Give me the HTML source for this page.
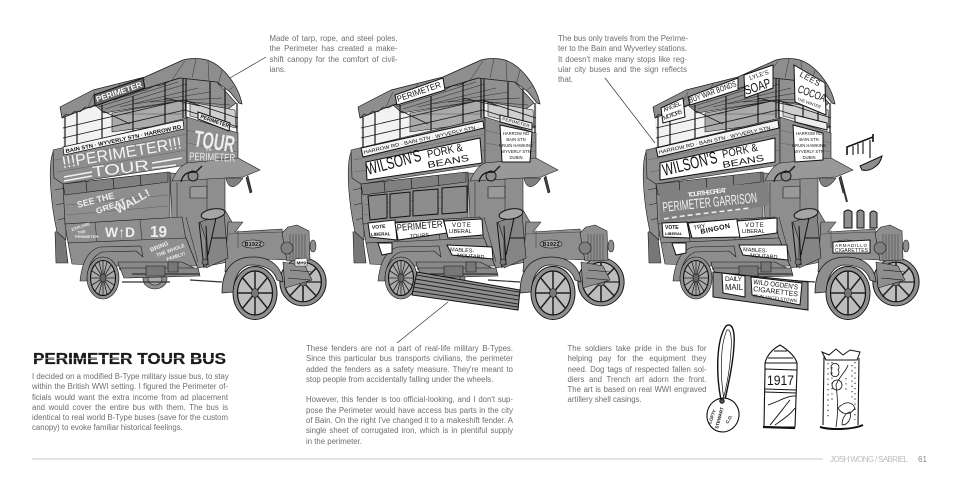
<!DOCTYPE html>
<html><head><meta charset="utf-8"><style>
html,body{margin:0;padding:0;background:#fff;width:960px;height:480px;overflow:hidden}
#c{position:relative;width:960px;height:480px;font-family:"Liberation Sans",sans-serif;color:#6e6e6e;font-size:7.8px}
.b{position:absolute}
.b div{height:10.3px;line-height:10.3px;white-space:nowrap;text-align:justify;text-align-last:justify}
.b div.l{text-align-last:left}
svg{position:absolute;left:0;top:0}
svg text{font-family:"Liberation Sans","DejaVu Sans",sans-serif}
</style></head><body><div id="c">
<svg width="960" height="480" viewBox="0 0 960 480">
<defs>
<g id="wheel">
<ellipse rx="22" ry="26.5" fill="#8e8e8e" stroke="#111" stroke-width=".9"/>
<ellipse rx="17.5" ry="22" fill="#bdbdbd" stroke="#111" stroke-width="1.2"/>
<path d="M0-22V22M-17.5 0H17.5M-13-16 13 16M13-16-13 16" stroke="#222" stroke-width="1.5" fill="none"/>
<ellipse rx="3.5" ry="4.5" fill="#777" stroke="#111"/>
</g>
<g id="bus" stroke="#1a1a1a" stroke-width=".6" fill="#8e8e8e" stroke-linejoin="round">
<!-- far wheel and rear differential -->
<use href="#wheel" transform="translate(303,282) scale(1.05,.9)"/>
<ellipse cx="155" cy="279" rx="12" ry="10" fill="#8e8e8e"/>
<ellipse cx="155" cy="279" rx="7" ry="6" fill="#aaa"/>
<!-- rear post -->
<path d="M55 232 64 230 68 263 56 263Z" fill="#777"/>
<path d="M53 152C48 165 50 200 57 232L66 240 66 190 64 150Z"/>
<path d="M55 160 63 157M54 175 63 172M55 190 64 188M56 205 65 203M58 220 65 218" stroke="#222" fill="none"/>
<!-- upper deck interior -->
<path d="M62 117 180 78 239 103 239 135 187 118 63 147Z" fill="#f2f2f2" stroke="none"/>
<path d="M95 105 147 88 180 78 217 82 236 103 224 112 185 100 104 113Z" fill="#909090"/>
<path d="M98 107 178 82M105 109 186 84M120 107 198 88M135 104 210 92M150 102 222 98M165 100 230 105" stroke="#333" stroke-width=".6" fill="none"/>
<path d="M112 113 185 100 186 122 112 132Z" fill="#aaa"/>
<path d="M190 102 235 110 236 128 190 116Z" fill="#cfcfcf"/>
<path d="M124 114H182" stroke="#555"/>
<path d="M65 116V147M77 112V144M102 105V139M133 96V132M165 80V124M183 78V118M186 78V118M210 82V124M225 88V128M237 103V135" stroke="#1a1a1a" stroke-width="1.2" fill="none"/>
<path d="M63 128 183 100 238 118M63 138 185 110 238 127M103 111 130 124M165 98 200 106" stroke="#1a1a1a" stroke-width=".8" fill="none"/>
<!-- canopy -->
<path d="M60 107 93 90 145 77 183 60C190 58 200 58 207 60 222 65 238 84 242 104L239 103 230 92 217 82 180 78 147 88 95 105 62 118Z" fill="#8e8e8e" stroke-width=".7"/>
<path d="M62 118 66 114 70 115 75 111 80 112 85 107 90 108 96 105 102 104 108 100 114 100 122 97 130 95 138 92 146 90 154 86 162 85 170 81 180 78" fill="none" stroke="#111"/>
<path d="M185 61 172 80M196 59 192 78M208 61 209 81M222 70 218 85M234 86 228 91M120 84 112 98M95 92 88 107M145 79 135 92" stroke="#333" stroke-width=".5" fill="none"/>
<!-- upper panels -->
<path d="M53 150 187 118 187 165 63 184 54 178Z"/>
<path d="M187 117 238 133 238 160 187 165Z"/>
<path d="M55 160 187 134M57 172 187 150M187 130 238 143M187 143 238 152" stroke="#555" stroke-width=".4" fill="none"/>
<!-- lower body -->
<path d="M63 184 170 172 170 218 65 224Z"/>
<path d="M63 184 168 172 168 182 65 195Z" fill="#808080"/>
<path d="M86 181 87 192M113 178 114 189M140 175 141 186" stroke="#111" fill="none"/>
<path d="M66 205 168 195M66 215 168 206" stroke="#555" stroke-width=".4" fill="none"/>
<path d="M170 173 225 175 225 210 232 222 228 262 198 268 186 238 172 220Z"/>
<path d="M190 187 207 186 207 198 190 198Z" fill="#999"/>
<path d="M207 175V214M177 182V218M186 217 198 262" stroke="#333" fill="none"/>
<!-- awning -->
<path d="M187 163 238 158 260 170 243 177 172 181C176 172 180 166 187 163Z" fill="#999"/>
<path d="M226 178C228 188 234 191 243 178Z" fill="#808080"/>
<path d="M248 176 252 192 250 193 246 178Z" fill="#444"/>
<circle cx="193" cy="176" r="5" fill="#8e8e8e" stroke-width="1"/>
<path d="M181 182C183 172 190 172 196 172L202 166" fill="none" stroke-width="1.4"/>
<!-- WD panel and skirt -->
<path d="M65 224 182 217 186 240 68 243Z"/>
<path d="M68 243 186 238 197 266 117 266 72 264Z"/>
<path d="M95 222 97 242M140 220 142 240" stroke="#333" fill="none"/>
<!-- rear guard -->
<path d="M80 281C82 262 88 250 100 247L141 246 143 257 136 251 102 252C92 256 87 268 87 281Z" fill="#8e8e8e"/>
<path d="M118 262 182 262 194 268 120 270Z" fill="#888"/>
<!-- chassis -->
<path d="M120 268 198 268 200 276 124 278Z" fill="#888"/>
<path d="M132 274H200M190 280 222 282M122 282 170 282" stroke="#333" stroke-width="1.2" fill="none"/>
<path d="M146 266 165 266 165 276 146 276Z" fill="#777"/>
<path d="M168 262H178V272H168Z" fill="#777"/>
<!-- hood -->
<path d="M228 222 243 222 235 232 282 229 287 260 243 258 225 272Z"/>
<path d="M228 234 282 232" stroke="#444" fill="none"/>
<path d="M238 230 V248" stroke="#444" fill="none"/>
<ellipse cx="253" cy="244" rx="11" ry="4" fill="#a8a8a8"/>
<!-- controls -->
<path d="M200 222 224 214 228 258 206 268 206 240Z" fill="#858585"/>
<ellipse cx="213" cy="214" rx="12" ry="5" fill="#a5a5a5" transform="rotate(-10 213 214)" stroke-width="1.1"/>
<path d="M206 226 208 265M216 218 208 255M199 222 204 268M212 238H226" stroke="#111" stroke-width="1" fill="none"/>
<circle cx="205" cy="262" r="3" fill="#777"/>
<!-- radiator -->
<path d="M282 233 288 227 297 225 309 231 310 260 287 261Z" fill="#8e8e8e"/>
<path d="M290 234V260M293 234V260M296 234V260M299 234V260M302 234V260M305 234V260" stroke="#444" stroke-width=".6"/>
<circle cx="287" cy="248" r="6" fill="#808080"/>
<ellipse cx="313" cy="246" rx="3" ry="6" fill="#8e8e8e"/>
<path d="M283 262 305 266 312 280 285 288Z" fill="#8e8e8e"/>
<path d="M290 270 312 272M288 278 310 280" stroke="#111" fill="none"/>
<!-- front wheel -->
<use href="#wheel" transform="translate(255,293)"/>
<path d="M222 293C222 270 232 257 253 257 272 257 282 268 283 282L277 280C274 270 266 265 251 265 240 266 234 277 233 292Z" fill="#8e8e8e" stroke-width=".8"/>
<!-- rear wheel -->
<g transform="translate(103,278)">
<ellipse rx="16" ry="21" fill="#8e8e8e" stroke="#111"/>
<ellipse rx="12.5" ry="17.5" fill="#a9a9a9" stroke="#111" stroke-width="1.1"/>
<path d="M0-17V17M-12 0H12M-8-13 8 13M8-13-8 13M-4-16 4 16M4-16-4 16M-11-7 11 7M11-7-11 7" stroke="#222" stroke-width=".8"/>
<ellipse rx="3" ry="4" fill="#666"/>
</g>
</g>
</defs>

<!-- BUS 1 -->
<use href="#bus"/>
<path d="M63 147 183 120 184 129 64 155Z" fill="#f6f6f6" stroke="#111" stroke-width=".7"/>
<text transform="translate(66,153) rotate(-12)" font-size="5.4" font-weight="bold" fill="#111" textLength="118" lengthAdjust="spacingAndGlyphs">BAIN STN · WYVERLY STN · HARROW RD</text>
<text transform="translate(63,168) rotate(-9.5)" font-size="16" fill="#f5f5f5" textLength="121" lengthAdjust="spacingAndGlyphs">!!!PERIMETER!!!</text>
<text transform="translate(93,177) rotate(-7)" font-size="15" fill="#f5f5f5" textLength="57" lengthAdjust="spacingAndGlyphs">TOUR</text>
<path d="M64 177 92 172M64 181 92 176M152 168 176 165M152 163 182 158" stroke="#f2f2f2" stroke-width="1.6"/>
<path d="M94 95 143 78 145 88 95 106Z" fill="#666" stroke="#111"/>
<text transform="translate(97,102) rotate(-18.5)" font-size="8" font-weight="bold" fill="#fff" textLength="48" lengthAdjust="spacingAndGlyphs">PERIMETER</text>
<path d="M198 112 230 123 229 131 198 119Z" fill="#eee" stroke="#111"/>
<text transform="translate(200,118) rotate(19)" font-size="5.5" font-weight="bold" fill="#111" textLength="30" lengthAdjust="spacingAndGlyphs">PERIMETER</text>
<text transform="translate(193,146) rotate(9)" font-size="23" font-weight="bold" fill="#eee" textLength="41" lengthAdjust="spacingAndGlyphs">TOUR</text>
<text x="205" y="151" font-size="3.5" fill="#eee">THE</text>
<text transform="translate(189,160) rotate(2)" font-size="11" fill="#eee" textLength="46" lengthAdjust="spacingAndGlyphs">PERIMETER</text>
<text transform="translate(78,208) rotate(-15)" font-size="9" font-weight="bold" fill="#eee" textLength="38" lengthAdjust="spacingAndGlyphs">SEE THE</text>
<text transform="translate(97,214) rotate(-20)" font-size="8" font-weight="bold" fill="#eee" textLength="31" lengthAdjust="spacingAndGlyphs">GREAT</text>
<text transform="translate(118,214) rotate(-30)" font-size="11" font-weight="bold" fill="#eee" textLength="38" lengthAdjust="spacingAndGlyphs">WALL!</text>
<text x="105" y="237" font-size="14" font-weight="bold" fill="#eee" textLength="30" lengthAdjust="spacingAndGlyphs">W↑D</text>
<text x="150" y="237" font-size="16" font-weight="bold" fill="#eee" textLength="17" lengthAdjust="spacingAndGlyphs">19</text>
<text transform="translate(72,231) rotate(-18)" font-size="4" fill="#eee" font-weight="bold">EXPLORE</text>
<text transform="translate(78,234) rotate(-8)" font-size="4" fill="#eee" font-weight="bold">THE</text>
<text transform="translate(75,238)" font-size="4" fill="#eee" font-weight="bold">PERIMETER</text>
<text transform="translate(151,252) rotate(-22)" font-size="6" font-weight="bold" fill="#eee">BRING</text>
<text transform="translate(157,257) rotate(-20)" font-size="5" font-weight="bold" fill="#eee">THE WHOLE</text>
<text transform="translate(167,261) rotate(-18)" font-size="5" font-weight="bold" fill="#eee">FAMILY!</text>
<text x="244.5" y="246" font-size="5.5" font-weight="bold" fill="#111" textLength="17">B1922</text>
<path d="M295 259 307 258 307 266 295 266Z" fill="#fff" stroke="#111" stroke-width=".5"/>
<text x="296.5" y="264.5" font-size="4.5" font-weight="bold" fill="#111">MH9</text>

<!-- BUS 2 -->
<use href="#bus" x="298"/>
<path d="M395 95 443 78 445 90 397 105Z" fill="#fff" stroke="#111"/>
<text transform="translate(398,102) rotate(-19)" font-size="8.5" fill="#111" textLength="46" lengthAdjust="spacingAndGlyphs">PERIMETER</text>
<path d="M361 148 483 121 484 128 363 157Z" fill="#f4f4f4" stroke="#111"/>
<text transform="translate(364,154) rotate(-12.5)" font-size="5" fill="#111" textLength="118" lengthAdjust="spacingAndGlyphs">HARROW RD · BAIN STN · WYVERLY STN ·</text>
<path d="M366 162 480 138 482 163 367 180Z" fill="#fff" stroke="#111" stroke-width="1"/>
<text transform="translate(368,175) rotate(-15)" font-size="17" fill="#111" textLength="56" lengthAdjust="spacingAndGlyphs">WILSON'S</text>
<text transform="translate(428,158) rotate(-12)" font-size="11" fill="#111" textLength="36" lengthAdjust="spacingAndGlyphs">PORK &amp;</text>
<text transform="translate(428,168) rotate(-10)" font-size="9" fill="#111" textLength="42" lengthAdjust="spacingAndGlyphs">BEANS</text>
<path d="M500 125 532 132 530 162 502 162Z" fill="#fff" stroke="#111"/>
<path d="M500 115 532 123 532 130 500 122Z" fill="#eee" stroke="#111"/>
<text transform="translate(502,120) rotate(15)" font-size="4.3" fill="#111" textLength="28">PERIMETER</text>
<g font-size="4.2" fill="#111" text-anchor="middle"><text x="516" y="135">HARROW RD</text><text x="516" y="141">BAIN STN</text><text x="516" y="147">BRUIN HAWKINS</text><text x="516" y="153">WYVERLY STN</text><text x="516" y="159">DUBIN</text></g>
<g fill="#8d8d8d" stroke="#111" stroke-width="1"><path d="M368 196 387 194 387 218 370 220Z"/><path d="M390 194 410 192 410 216 390 218Z"/><path d="M413 191 438 189 438 214 413 216Z"/><path d="M442 188 467 186 467 212 442 214Z"/></g>
<path d="M368 223 395 220 397 240 370 237Z" fill="#fff" stroke="#111"/>
<text transform="translate(372,229) rotate(-5)" font-size="5" font-weight="bold" fill="#111">VOTE</text>
<text transform="translate(371,236) rotate(-2)" font-size="4.5" font-weight="bold" fill="#111">LIBERAL</text>
<path d="M395 223 443 219 447 233 398 240Z" fill="#fff" stroke="#111"/>
<text transform="translate(397,231) rotate(-5)" font-size="9.5" fill="#111" textLength="46" lengthAdjust="spacingAndGlyphs">PERIMETER</text>
<text transform="translate(410,238) rotate(-4)" font-size="5.5" fill="#111">TOURS</text>
<path d="M444 221 482 219 483 235 448 238Z" fill="#fff" stroke="#111"/>
<text x="452" y="227" font-size="6" fill="#111" letter-spacing=".8">VOTE</text>
<text x="449" y="233" font-size="5.5" fill="#111">LIBERAL</text>
<path d="M378 243 392 243 392 253 382 255Z" fill="#fff" stroke="#111"/>
<path d="M447 245 492 247 493 259 452 255Z" fill="#fff" stroke="#111"/>
<text transform="translate(450,251) rotate(4)" font-size="5.5" fill="#111">MABLES-</text>
<text transform="translate(457,257) rotate(4)" font-size="5.5" fill="#111">MOUTARD</text>
<path d="M417 272 520 290 518 310 412 295Z" fill="#8e8e8e" stroke="#111"/>
<path d="M416 275 519 292M415 279 519 296M414 283 519 300M413 287 518 304M412 291 518 307" stroke="#222" stroke-width=".9"/>
<text x="542.5" y="246" font-size="5.5" font-weight="bold" fill="#111" textLength="17">B1922</text>

<!-- BUS 3 -->
<use href="#bus" x="593"/>
<path d="M661 108 683 98 685 117 663 123Z" fill="#fff" stroke="#111"/>
<text transform="translate(664,112) rotate(-22)" font-size="6" fill="#111" textLength="19">ANGEL</text>
<text transform="translate(664,120) rotate(-20)" font-size="6" fill="#111" textLength="20">MOTORS</text>
<path d="M688 97 738 78 738 90 690 105Z" fill="#fff" stroke="#111"/>
<text transform="translate(690,103) rotate(-20)" font-size="8" fill="#111" textLength="50" lengthAdjust="spacingAndGlyphs">BUY WAR BONDS</text>
<path d="M744 75 773 65 773 88 745 98Z" fill="#fff" stroke="#111"/>
<text transform="translate(750,80) rotate(-18)" font-size="6" fill="#111" textLength="20">LYLE'S</text>
<text transform="translate(746,95) rotate(-18)" font-size="13" fill="#111" textLength="27" lengthAdjust="spacingAndGlyphs">SOAP</text>
<path d="M794 65 825 83 826 115 795 102Z" fill="#fff" stroke="#111"/>
<text transform="translate(799,76) rotate(28)" font-size="8" fill="#111" textLength="22">LEES</text>
<text transform="translate(797,92) rotate(20)" font-size="11" fill="#111" textLength="29" lengthAdjust="spacingAndGlyphs">COCOA</text>
<text transform="translate(797,100) rotate(20)" font-size="4" fill="#111">THE WINTER</text>
<path d="M656 148 778 120 779 128 658 157Z" fill="#f4f4f4" stroke="#111"/>
<text transform="translate(659,154) rotate(-12.5)" font-size="5" fill="#111" textLength="118" lengthAdjust="spacingAndGlyphs">HARROW RD · BAIN STN · WYVERLY STN ·</text>
<path d="M660 163 775 138 775 162 660 180Z" fill="#fff" stroke="#111" stroke-width="1"/>
<text transform="translate(664,176) rotate(-14)" font-size="17" fill="#111" textLength="56" lengthAdjust="spacingAndGlyphs">WILSON'S</text>
<text transform="translate(723,158) rotate(-12)" font-size="11" fill="#111" textLength="36" lengthAdjust="spacingAndGlyphs">PORK &amp;</text>
<text transform="translate(723,168) rotate(-10)" font-size="9" fill="#111" textLength="42" lengthAdjust="spacingAndGlyphs">BEANS</text>
<path d="M793 125 823 133 823 160 795 162Z" fill="#fff" stroke="#111"/>
<path d="M795 115 827 123 827 130 795 122Z" fill="#eee" stroke="#111"/>
<g font-size="4.2" fill="#111" text-anchor="middle"><text x="809" y="135">HARROW RD</text><text x="809" y="141">BAIN STN</text><text x="809" y="147">BRUIN HAWKINS</text><text x="809" y="153">WYVERLY STN</text><text x="809" y="159">DUBIN</text></g>
<path d="M660 192 768 182 770 205 660 224Z" fill="#808080"/>
<text transform="translate(688,197) rotate(-7)" font-size="6.5" font-weight="bold" fill="#eee" textLength="39">TOUR THE GREAT</text>
<text transform="translate(663,212) rotate(-6)" font-size="14" fill="#f2f2f2" textLength="95" lengthAdjust="spacingAndGlyphs">PERIMETER GARRISON</text>
<path d="M664 219C680 216 700 214 750 208" stroke="#eee" stroke-width="1.6" stroke-dasharray="5 3" fill="none"/>
<path d="M662 223 687 222 690 238 663 237Z" fill="#fff" stroke="#111"/>
<text x="665" y="229" font-size="5" font-weight="bold" fill="#111">VOTE</text>
<text x="665" y="235" font-size="4" font-weight="bold" fill="#111">LIBERAL</text>
<path d="M688 223 737 219 740 237 692 238Z" fill="#fff" stroke="#111"/>
<text transform="translate(694,230) rotate(-12)" font-size="6" fill="#111">TRY</text>
<text transform="translate(701,234) rotate(-12)" font-size="7" font-weight="bold" fill="#111" textLength="30">BINGON</text>
<path d="M737 221 777 218 777 233 740 238Z" fill="#fff" stroke="#111"/>
<text x="745" y="227" font-size="6" fill="#111" letter-spacing=".8">VOTE</text>
<text x="742" y="233" font-size="5.5" fill="#111">LIBERAL</text>
<path d="M672 243 686 243 686 253 676 255Z" fill="#fff" stroke="#111"/>
<path d="M739 245 787 245 788 260 743 255Z" fill="#fff" stroke="#111"/>
<text transform="translate(743,251) rotate(4)" font-size="5.5" fill="#111">MABLES-</text>
<text transform="translate(750,257) rotate(4)" font-size="5.5" fill="#111">MOUTARD</text>
<path d="M713 272 808 282 808 310 713 297Z" fill="#8e8e8e" stroke="#111"/>
<path d="M722 273 745 276 745 297 723 293Z" fill="#fff" stroke="#111"/>
<text x="725" y="281" font-size="6.5" fill="#111" textLength="17">DAILY</text>
<text x="725" y="290" font-size="8" fill="#111" textLength="18" lengthAdjust="spacingAndGlyphs">MAIL</text>
<path d="M751 277 802 283 800 305 752 295Z" fill="#fff" stroke="#111"/>
<g fill="#111" font-size="7"><text transform="translate(753,284) rotate(7)" textLength="45" lengthAdjust="spacingAndGlyphs">WILD OGDEN'S</text><text transform="translate(753,291) rotate(7)" textLength="45" lengthAdjust="spacingAndGlyphs">CIGARETTES</text><text transform="translate(753,297) rotate(7)" font-size="4.5" textLength="44">#1 IN ANGELSTOWN</text></g>
<g fill="#8e8e8e" stroke="#111"><path d="M844 212Q848 208 852 212V228H844Z"/><path d="M857 212Q860 208 864 212V228H857Z"/><path d="M870 213Q873 209 877 213V228H870Z"/></g>
<path d="M833 242 870 240 870 253 833 253Z" fill="#fff" stroke="#111"/>
<text x="835" y="247" font-size="4.5" fill="#111" textLength="32">ARMADILLO</text>
<text x="835" y="252" font-size="5" fill="#111" textLength="33">CIGARETTES</text>
<path d="M847 155V147L873 137M873 134 873 142" stroke="#111" stroke-width="1.6" fill="none"/>
<path d="M853 146V155M858 144V154M863 142V154M870 140 870 158" stroke="#222" stroke-width="1.2" fill="none"/>
<path d="M860 166 882 156C880 166 870 172 862 170Z" fill="#8e8e8e" stroke="#111"/>
<path d="M842 183 847 202" stroke="#333" stroke-width="2"/>

<!-- leader lines -->
<path d="M266 57 230 78M448 302 397 343M605 78 655 143" stroke="#333" stroke-width=".7" fill="none"/>

<!-- heading -->
<text x="33" y="364" font-size="16" font-weight="bold" fill="#1a1a1a" stroke="#1a1a1a" stroke-width=".3" textLength="193" lengthAdjust="spacingAndGlyphs">PERIMETER TOUR BUS</text>
<path d="M33 358.5H226" stroke="#fff" stroke-width=".5"/>

<!-- tag and shells -->
<g fill="none" stroke="#111">
<path d="M721 400C716 375 716 340 726 326 732 322 735 330 734 345 733 365 728 385 725 400" stroke-width="1.4"/>
<path d="M724 400C720 375 720 345 727 330 731 328 732 340 731 350 730 370 727 385 723 400" stroke-width=".7"/>
<ellipse cx="723" cy="415" rx="16" ry="17" stroke-width="1.1" fill="#fff" transform="rotate(15 723 415)"/>
<circle cx="722" cy="401" r="2.2" fill="#555"/>
<path d="M765 370V363C767 355 773 349 780 345 788 350 795 356 797 363V370L795 427H764Z" stroke-width="1.1" fill="#fff"/>
<path d="M774 351 787 351M768 358 793 358M765 363 797 363M765 369 797 370M765 389 796 390M765 392 796 393" stroke-width=".9"/>
<path d="M768 405C778 402 788 395 796 396M770 425C776 418 782 410 790 400M775 425C782 420 790 415 795 408" stroke-width=".9"/>
<path d="M763 427 795 428" stroke-width="2.2"/>
<path d="M822 352 829 355 836 349 843 355 850 350 860 352 857 360H826L822 352Z" stroke-width="1" fill="#fff"/>
<path d="M824 357 823 425M859 358 858 425" stroke-width="1.1"/>
<path d="M836 427C838 415 838 400 836 385 840 375 846 372 848 365M838 408C846 400 852 402 855 408 850 416 842 415 838 408M842 385a5 5 0 1 0 -10 0a5 5 0 1 0 10 0M842 425C842 416 848 412 850 412 852 418 848 425 842 425M832 370a4 4 0 1 0 6 0a4 4 0 1 0 -6 0" stroke-width=".8"/>
<path d="M828 363V420M832 362V400M846 378V392M852 365V400M855 362V420" stroke-dasharray="1.2 4" stroke-width="1"/>
<path d="M820 427C830 430 852 430 863 425" stroke-width="2"/>
</g>
<text x="767" y="385" font-size="13.5" fill="#111" textLength="27" lengthAdjust="spacingAndGlyphs">1917</text>
<g font-size="4.5" fill="#111" font-weight="bold">
<text transform="translate(718,429) rotate(-75)">STEWART</text>
<text transform="translate(711,424) rotate(-70)">LOFTY</text>
<text transform="translate(728,424) rotate(-60)">C.O.</text>
</g>

<!-- footer -->
<rect x="32" y="458.5" width="791" height="1" fill="#c9c9c9"/>
<text x="830" y="462" font-size="8" fill="#bdbdbd" textLength="78">JOSH WONG / SABRIEL</text>
<text x="918" y="462" font-size="8" fill="#888">61</text>
</svg>

<div class="b" style="left:269.5px;top:34px;width:128px">
<div>Made of tarp, rope, and steel poles,</div>
<div>the Perimeter has created a make-</div>
<div>shift canopy for the comfort of civil-</div>
<div class="l">ians.</div>
</div>
<div class="b" style="left:558px;top:34px;width:129px">
<div>The bus only travels from the Perime-</div>
<div>ter to the Bain and Wyverley stations.</div>
<div>It doesn't make many stops like reg-</div>
<div>ular city buses and the sign reflects</div>
<div class="l">that.</div>
</div>
<div class="b" style="left:32px;top:372px;width:196px">
<div>I decided on a modified B-Type military issue bus, to stay</div>
<div>within the British WWI setting. I figured the Perimeter of-</div>
<div>ficials would want the extra income from ad placement</div>
<div>and would cover the entire bus with them. The bus is</div>
<div>identical to real world B-Type buses (save for the custom</div>
<div class="l">canopy) to evoke familiar historical feelings.</div>
</div>
<div class="b" style="left:306px;top:344px;width:207px">
<div>These fenders are not a part of real-life military B-Types.</div>
<div>Since this particular bus transports civilians, the perimeter</div>
<div>added the fenders as a safety measure. They're meant to</div>
<div class="l">stop people from accidentally falling under the wheels.</div>
<div class="l">&nbsp;</div>
<div>However, this fender is too official-looking, and I don't sup-</div>
<div>pose the Perimeter would have access bus parts in the city</div>
<div>of Bain. On the right I've changed it to a makeshift fender. A</div>
<div>single sheet of corrugated iron, which is in plentiful supply</div>
<div class="l">in the perimeter.</div>
</div>
<div class="b" style="left:567.5px;top:344px;width:139px">
<div>The soldiers take pride in the bus for</div>
<div>helping pay for the equipment they</div>
<div>need. Dog tags of respected fallen sol-</div>
<div>diers and Trench art adorn the front.</div>
<div>The art is based on real WWI engraved</div>
<div class="l">artillery shell casings.</div>
</div>
</div></body></html>
